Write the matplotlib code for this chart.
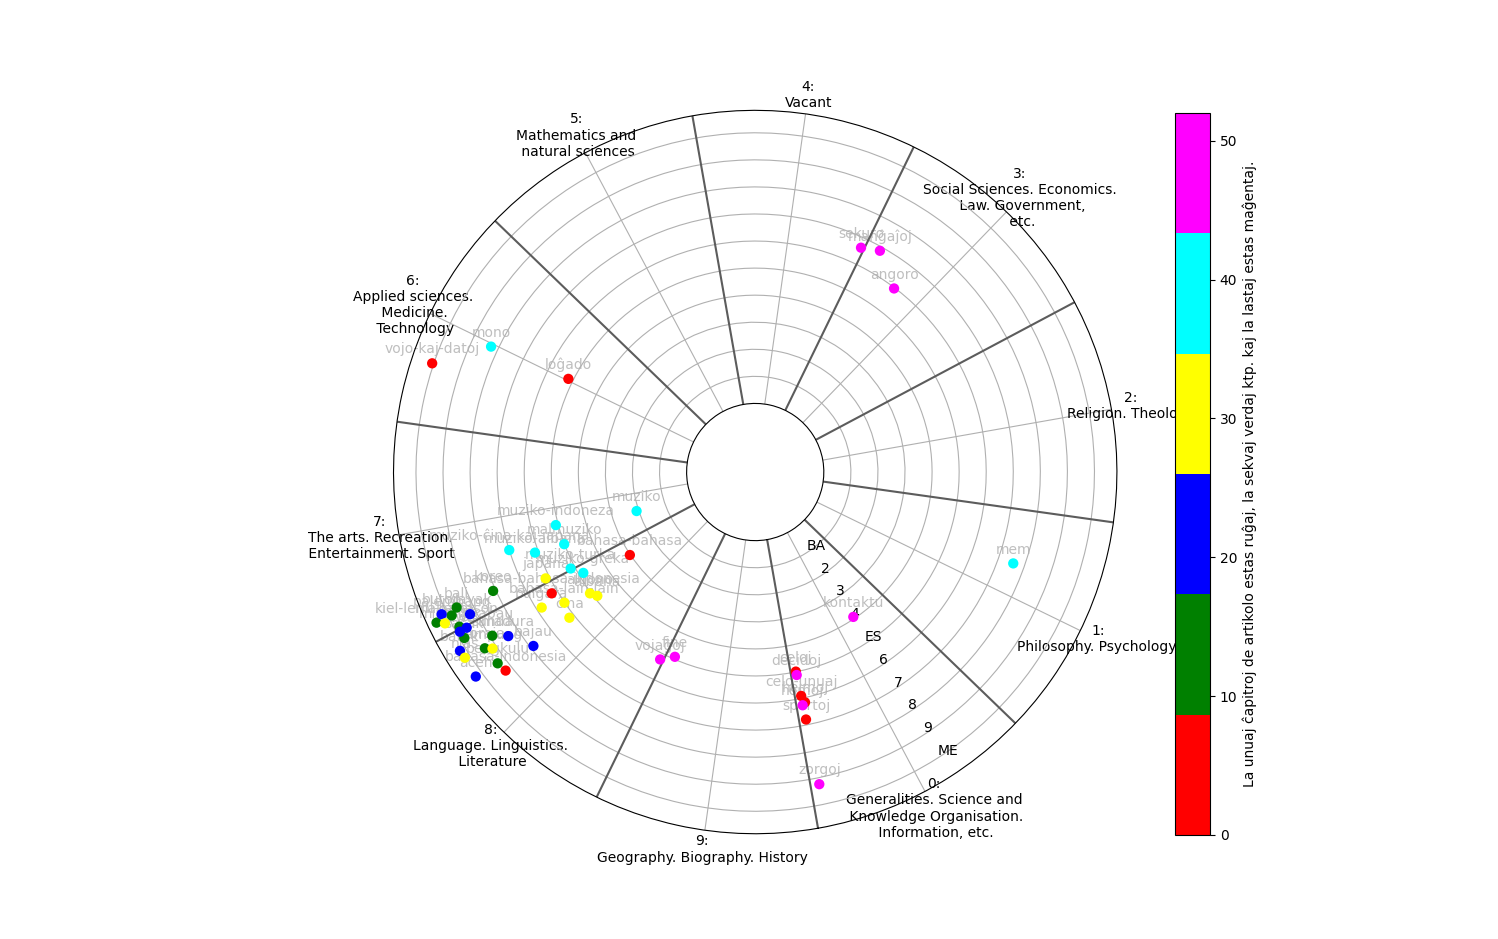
import numpy as np
import matplotlib
matplotlib.use('Agg')
import matplotlib.pyplot as plt
from matplotlib.colors import ListedColormap

# ---- data (ordered by chapter index) ----
words = [
    'vojo-kaj-datoj', 'loĝado', 'celoj', 'celo-unuaj', 'hejmoj', 'sportoj',
    'bahasa-bahasa', 'bahasa-bahasa-indonesia', 'bahasa-indonesia',
    'koreo', 'bali', 'palembang', 'kiel-lerni-bahason', 'bugis', 'sasak',
    'sunda', 'toraja', 'bengkulu',
    'buton', 'dayak', 'minangkabau', 'jawa', 'madura', 'bajau', 'batak', 'aceh',
    'japana', 'aldono', 'albana', 'bahasa-lain-lain', 'bulgara', 'ĉina',
    'makasar', 'lampung', 'nias',
    'muziko', 'muziko-indoneza', 'malmuziko', 'muziko-ĉina-kaj-japana',
    'muziko-albana', 'muziko-turka', 'muziko-greka', 'mono', 'mem',
    'sekuro', 'manĝaĵoj', 'angoro', 'kontaktu', 'decidoj', 'homoj', 'zorgoj',
    'vojaĝoj', 'fine',
]
theta_deg = [
    241.4, 233.5, 1.5, 1.6, 2.2, 1.6, 293.5, 290.8, 298.5,
    284.4, 284.4, 285.3, 285.3, 287.6, 289.7, 291.9, 293.1, 296.6,
    284.4, 286.5, 288.35, 288.4, 293.6, 298.1, 291.2, 296.2,
    286.9, 296.3, 298.1, 294.4, 292.4, 298.1, 286.0, 293.9, 292.6,
    278.2, 274.9, 280.7, 277.6, 280.1, 287.6, 290.4, 234.6, 60.5,
    144.75, 140.6, 132.9, 24.1, 1.55, 1.5, 1.6, 323.1, 326.5,
]
radius = [
    10.06, 5.18, 4.99, 5.91, 6.17, 6.80, 3.02, 6.22, 9.25,
    8.10, 9.58, 9.87, 10.49, 9.80, 9.84, 8.91, 9.39, 9.32,
    10.19, 9.24, 9.58, 9.87, 8.42, 7.88, 10.22, 10.26,
    6.15, 5.04, 4.88, 6.01, 6.81, 6.19, 10.22, 9.16, 10.20,
    2.08, 5.09, 5.01, 7.00, 6.13, 5.16, 4.83, 8.27, 7.58,
    6.63, 6.85, 5.97, 3.93, 5.12, 6.26, 9.24, 5.23, 4.91,
]
chapter = list(range(53))

class_labels = [
    "0:\nGeneralities. Science and\n Knowledge Organisation.\n Information, etc.",
    "1:\nPhilosophy. Psychology.",
    "2:\nReligion. Theology",
    "3:\nSocial Sciences. Economics.\n Law. Government,\n etc.",
    "4:\nVacant",
    "5:\nMathematics and\n natural sciences",
    "6:\nApplied sciences.\n Medicine.\n Technology",
    "7:\nThe arts. Recreation.\n Entertainment. Sport",
    "8:\nLanguage. Linguistics.\n Literature",
    "9:\nGeography. Biography. History",
]
r_ticks = [1, 2, 3, 4, 5, 6, 7, 8, 9, 10]
r_tick_labels = ['BA', '2', '3', '4', 'ES', '6', '7', '8', '9', 'ME']
colors = ['red', 'green', 'blue', 'yellow', 'cyan', 'magenta']
cbar_label = ("La unuaj ĉapitroj de artikolo estas ruĝaj, la sekvaj verdaj "
              "ktp. kaj la lastaj estas maĝentaj.")

R_MAX = 10.83
R_ORIGIN = -2.535

fig = plt.figure(figsize=(14.98, 9.39), dpi=100)
ax = fig.add_axes([0.2627, 0.1121, 0.4829, 0.7704], projection='polar')
ax.set_theta_offset(np.deg2rad(-80))
ax.set_rorigin(R_ORIGIN)
ax.set_ylim(0, R_MAX)

ax.set_xticks(np.deg2rad(np.arange(10) * 36 + 18))
ax.set_xticklabels(class_labels)
ax.set_yticks(r_ticks)
ax.set_yticklabels(r_tick_labels)

for k in range(10):
    ax.plot([np.deg2rad(36 * k)] * 2, [0, R_MAX], color='0.36', lw=1.5, zorder=2)

cmap = ListedColormap(colors)
sc = ax.scatter(np.deg2rad(theta_deg), radius, c=chapter, cmap=cmap,
                vmin=0, vmax=52, s=55, linewidths=0, zorder=3)
for w, t, r in zip(words, theta_deg, radius):
    ax.annotate(w, (np.deg2rad(t), r), xytext=(0, 10), textcoords='offset points',
                ha='center', va='center', color='0.75', fontsize=10, zorder=1.2)
ax.set_ylim(0, R_MAX)

cax = fig.add_axes([0.7844, 0.1108, 0.0234, 0.769])
cb = fig.colorbar(sc, cax=cax)
cb.set_label(cbar_label)

fig.savefig('out.png', dpi=100)
